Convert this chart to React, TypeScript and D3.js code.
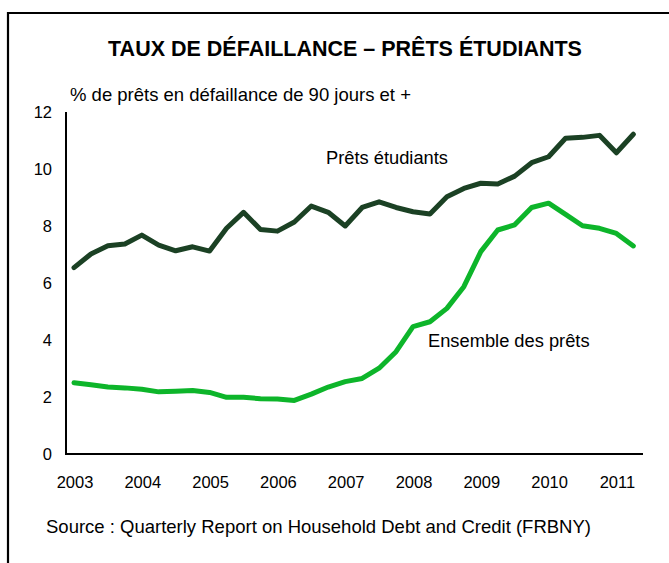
import React from 'react';
import * as d3 from 'd3';

// trimestres 2003T1 .. 2011T2
const quarters: number[] = d3.range(0, 34);
const years: number[] = [2003, 2004, 2005, 2006, 2007, 2008, 2009, 2010, 2011];
const yTicks: number[] = [0, 2, 4, 6, 8, 10, 12];

const studentLoans: number[] = [
  6.54, 7.02, 7.31, 7.37, 7.68, 7.33, 7.13, 7.27, 7.12, 7.92,
  8.48, 7.88, 7.82, 8.14, 8.7, 8.48, 8.0, 8.65, 8.85, 8.65,
  8.5, 8.42, 9.03, 9.32, 9.5, 9.47, 9.75, 10.22, 10.43, 11.08,
  11.11, 11.18, 10.57, 11.22,
];
const allLoans: number[] = [
  2.5, 2.43, 2.35, 2.32, 2.27, 2.18, 2.2, 2.23, 2.16, 1.99,
  1.99, 1.94, 1.93, 1.88, 2.1, 2.35, 2.54, 2.65, 3.01, 3.59,
  4.47, 4.64, 5.11, 5.87, 7.1, 7.86, 8.04, 8.65, 8.8, 8.41,
  8.01, 7.92, 7.74, 7.3,
];

const W = 669;
const H = 563;
const FONT = '"Liberation Sans", Arial, sans-serif';

const App: React.FC = () => {
  const x = d3.scaleLinear().domain([0, 4]).range([74, 141.8]);
  const y = d3.scaleLinear().domain([0, 12]).range([454, 112]);

  const line = d3
    .line<number>()
    .x((_, i) => x(quarters[i]))
    .y((d) => y(d));

  return (
    <svg
      width={W}
      height={H}
      style={{ position: 'absolute', left: 0, top: 0, background: '#fff' }}
      fontFamily={FONT}>
      {/* cadre */}
      <path d={`M8,${H} V13 H${W}`} fill="none" stroke="#000" strokeWidth={2.2} />

      <text x={345} y={56} textAnchor="middle" fontSize={21.5} fontWeight="bold" fill="#000">
        TAUX DE DÉFAILLANCE – PRÊTS ÉTUDIANTS
      </text>
      <text x={70} y={101} fontSize={18.5} fill="#000">
        % de prêts en défaillance de 90 jours et +
      </text>

      {/* axes */}
      <path d={`M66,${y(12)} V${y(0)} H643`} fill="none" stroke="#000" strokeWidth={2} />
      {yTicks.map((t) => (
        <text key={t} x={52} y={y(t) + 6} textAnchor="end" fontSize={16.5} fill="#000">
          {t}
        </text>
      ))}
      {years.map((yr, i) => (
        <text key={yr} x={x(i * 4) + 1} y={488} textAnchor="middle" fontSize={16.5} fill="#000">
          {yr}
        </text>
      ))}

      <path d={line(allLoans) || ''} fill="none" stroke="#0db52a" strokeWidth={5} strokeLinejoin="round" strokeLinecap="round" />
      <path d={line(studentLoans) || ''} fill="none" stroke="#1b4124" strokeWidth={5} strokeLinejoin="round" strokeLinecap="round" />

      <text x={326} y={164} fontSize={18.3} fill="#000">Prêts étudiants</text>
      <text x={428} y={347} fontSize={18.3} fill="#000">Ensemble des prêts</text>

      <text x={46} y={533} fontSize={18.5} fill="#000">
        Source : Quarterly Report on Household Debt and Credit (FRBNY)
      </text>
    </svg>
  );
};

export default App;
